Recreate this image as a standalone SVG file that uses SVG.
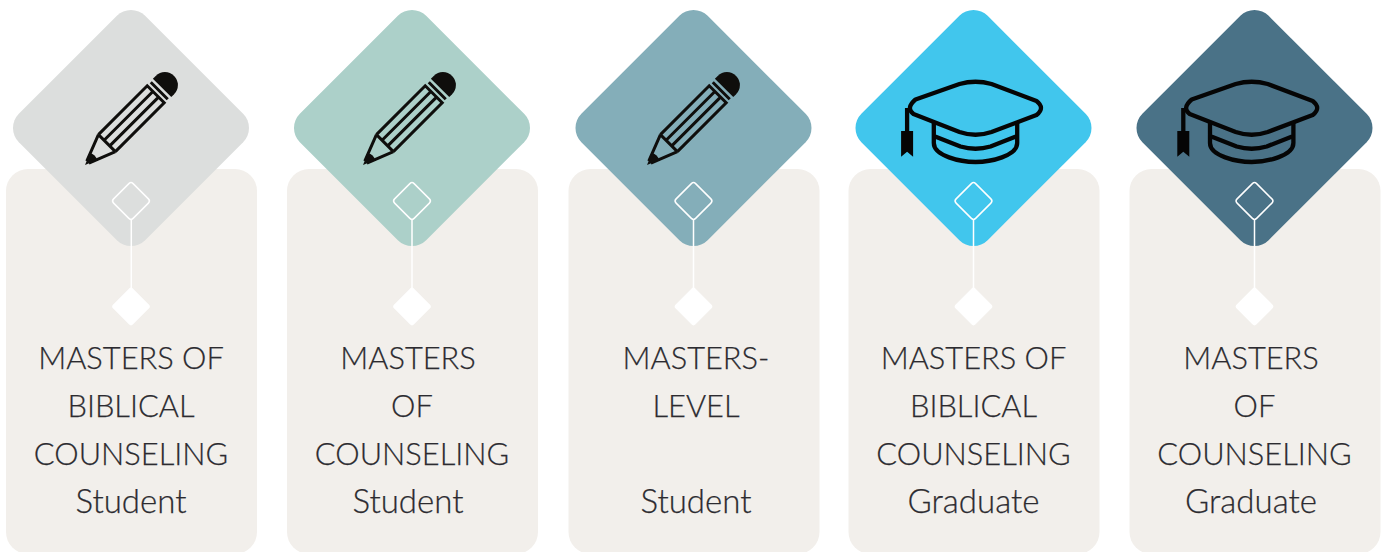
<svg xmlns="http://www.w3.org/2000/svg" xmlns:xlink="http://www.w3.org/1999/xlink" width="1385" height="552" viewBox="0 0 1385 552">
<style>
.card{fill:#f2efeb}
.outline{fill:none;stroke:#fff;stroke-width:1.5}
.solid{fill:#fff}
.link{stroke:#fff;stroke-width:1.5;fill:none}
text{font-family:"Lato","Noto Sans",sans-serif;font-weight:300;font-size:30.8px;fill:#2c2b30;stroke:#2c2b30;stroke-width:.25;text-anchor:middle}
text.low{font-size:33px}
.ic{fill:none;stroke:#0f0e0c;stroke-width:3}
.capl{fill:none;stroke:#050505;stroke-width:4.300;stroke-linejoin:round}
</style>
<defs>
<rect id="dia" x="-89.3" y="-89.3" width="178.6" height="178.6" rx="20" transform="rotate(45)"/>
<rect id="dout" x="-13.800" y="-13.800" width="27.600" height="27.600" rx="3" transform="rotate(45)"/>
<rect id="dsol" x="-14.100" y="-14.100" width="28.200" height="28.200" rx="3" transform="rotate(45)"/>
<g id="pencil" transform="rotate(-45)">
<path class="ic" d="M31 -12 L4 -1.500 M4 1.500 L31 12 M31 -12 L31 12 M31 -12 H100 V12 H31 M31 -4 H100 M31 4 H100 M105 -12 V12"/>
<path fill="#0f0e0c" d="M0 0 L12 -5 Q15 0 12 5 Z"/>
<path fill="#0f0e0c" d="M109 -13 H113 A13 13 0 0 1 113 13 H109 Z"/>
</g>
<g id="cap">
<path class="capl" d="M-60 -8.500 L-16 -24 Q0 -28.500 16 -24 L61 -7 Q70 0 61 7 L16 24 Q0 29.500 -16 24 L-62 6 Q-70 0 -60 -8.500Z"/>
<path class="capl" d="M-41.700 15 V35 C-41.700 48 -15 54 0 54 C15 54 41.700 48 41.700 35 V15 M-41.700 28 L-15 38.500 Q0 43 15 38.500 L41.700 28"/>
<path class="capl" d="M-68.400 0 V24"/>
<path fill="#050505" d="M-74.400 23 H-62.400 V48.700 L-68.400 43.700 L-74.400 48.700 Z"/>
</g>
</defs>

<g id="node1">
<rect class="card" x="6" y="169" width="251" height="385" rx="22"/>
<use xlink:href="#dia" x="131" y="128" fill="#dcdedd"/>
<use xlink:href="#pencil" x="85" y="165"/>
<use xlink:href="#dout" x="131" y="201" class="outline"/>
<use xlink:href="#dsol" x="131" y="306.500" class="solid"/>
<text x="131" y="369">MASTERS OF</text>
<text x="131" y="417">BIBLICAL</text>
<text x="131" y="465">COUNSELING</text>
<text class="low" x="131" y="513">Student</text>
</g>

<g id="node2">
<rect class="card" x="287" y="169" width="251" height="385" rx="22"/>
<use xlink:href="#dia" x="412" y="128" fill="#acd0c9"/>
<use xlink:href="#pencil" x="363" y="165"/>
<use xlink:href="#dout" x="412" y="201" class="outline"/>
<use xlink:href="#dsol" x="412" y="306.500" class="solid"/>
<text x="408" y="369">MASTERS</text>
<text x="412" y="417">OF</text>
<text x="412" y="465">COUNSELING</text>
<text class="low" x="408" y="513">Student</text>
</g>

<g id="node3">
<rect class="card" x="568.500" y="169" width="251" height="385" rx="22"/>
<use xlink:href="#dia" x="693.500" y="128" fill="#84aeb9"/>
<use xlink:href="#pencil" x="647" y="165"/>
<use xlink:href="#dout" x="693.500" y="201" class="outline"/>
<use xlink:href="#dsol" x="693.500" y="306.500" class="solid"/>
<text x="696" y="369">MASTERS-</text>
<text x="696" y="417">LEVEL</text>
<text class="low" x="696" y="513">Student</text>
</g>

<g id="node4">
<rect class="card" x="848.500" y="169" width="251" height="385" rx="22"/>
<use xlink:href="#dia" x="973.500" y="128" fill="#41c6ed"/>
<use xlink:href="#cap" x="975.500" y="108"/>
<use xlink:href="#dout" x="973.500" y="201" class="outline"/>
<use xlink:href="#dsol" x="973.500" y="306.500" class="solid"/>
<text x="973.500" y="369">MASTERS OF</text>
<text x="973.500" y="417">BIBLICAL</text>
<text x="973.500" y="465">COUNSELING</text>
<text class="low" x="973.500" y="513">Graduate</text>
</g>

<g id="node5">
<rect class="card" x="1129.500" y="169" width="251" height="385" rx="22"/>
<use xlink:href="#dia" x="1254.500" y="128" fill="#4a7287"/>
<use xlink:href="#cap" x="1251.700" y="108"/>
<use xlink:href="#dout" x="1254.500" y="201" class="outline"/>
<use xlink:href="#dsol" x="1254.500" y="306.500" class="solid"/>
<text x="1251" y="369">MASTERS</text>
<text x="1254.500" y="417">OF</text>
<text x="1254.500" y="465">COUNSELING</text>
<text class="low" x="1251" y="513">Graduate</text>
</g>

<g id="connectors">
<path class="link" d="M131.300 220V288M412 220V288M693.500 220V288M973.500 220V288M1254.500 220V288"/>
</g>
</svg>
